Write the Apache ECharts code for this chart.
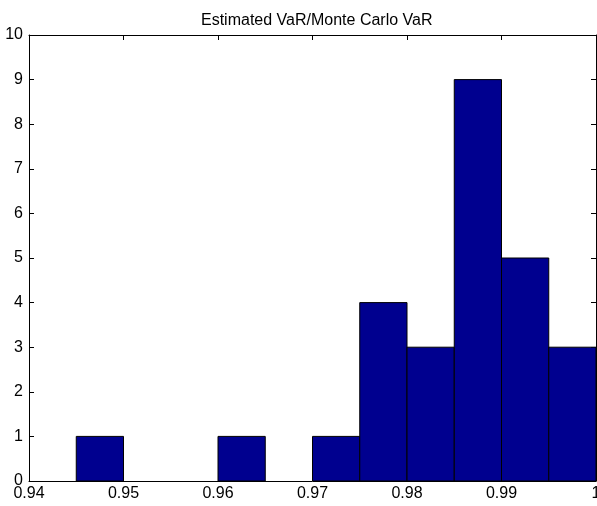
<!DOCTYPE html>
<html>
<head>
<meta charset="utf-8">
<script src="https://cdn.jsdelivr.net/npm/echarts@6/dist/echarts.min.js"></script>
<style>
html,body{margin:0;padding:0;background:#fff;}
#chart{width:597px;height:506px;}
</style>
</head>
<body>
<div id="chart"></div>
<script>
// Histogram bins of the ratio estimated VaR / Monte Carlo VaR
var binStart = [0.945, 0.960, 0.970, 0.975, 0.980, 0.985, 0.990, 0.995];
var binEnd   = [0.950, 0.965, 0.975, 0.980, 0.985, 0.990, 0.995, 1.000];
var counts   = [1, 1, 1, 4, 3, 9, 5, 3];
var xTicks   = [0.94, 0.95, 0.96, 0.97, 0.98, 0.99, 1];
var yTicks   = [0, 1, 2, 3, 4, 5, 6, 7, 8, 9, 10];

var chart = echarts.init(document.getElementById('chart'));
var font = 'Liberation Sans, Arial, sans-serif';
var data = counts.map(function (c, i) { return [binStart[i], binEnd[i], c]; });

var frameAxisX = function (pos, showLabel) {
  return {
    type: 'value', position: pos,
    min: xTicks[0], max: xTicks[xTicks.length - 1], interval: 0.01,
    axisLine: { show: true, onZero: false, lineStyle: { color: '#000', width: 1 } },
    axisTick: { show: true, inside: true, length: 5, lineStyle: { color: '#000' } },
    axisLabel: { show: showLabel, color: '#000', fontFamily: font, fontSize: 16, margin: 5 },
    splitLine: { show: false }
  };
};
var frameAxisY = function (pos, showLabel) {
  return {
    type: 'value', position: pos,
    min: yTicks[0], max: yTicks[yTicks.length - 1], interval: 1,
    axisLine: { show: true, onZero: false, lineStyle: { color: '#000', width: 1 } },
    axisTick: { show: true, inside: true, length: 5, lineStyle: { color: '#000' } },
    axisLabel: { show: showLabel, color: '#000', fontFamily: font, fontSize: 16, margin: 6 },
    splitLine: { show: false }
  };
};

chart.setOption({
  animation: false,
  title: {
    text: 'Estimated VaR/Monte Carlo VaR',
    left: 196, top: 8,
    textStyle: { color: '#000', fontFamily: font, fontSize: 16, fontWeight: 'normal' }
  },
  grid: { left: 29, right: 1, top: 35, bottom: 25, containLabel: false, outerBoundsMode: 'none' },
  xAxis: [frameAxisX('bottom', true), frameAxisX('top', false)],
  yAxis: [frameAxisY('left', true), frameAxisY('right', false)],
  series: [{
    type: 'custom',
    xAxisIndex: 0, yAxisIndex: 0,
    data: data,
    encode: { x: [0, 1], y: 2 },
    renderItem: function (params, api) {
      var p0 = api.coord([api.value(0), api.value(2)]);
      var p1 = api.coord([api.value(1), 0]);
      return {
        type: 'rect',
        shape: { x: p0[0], y: p0[1], width: p1[0] - p0[0], height: p1[1] - p0[1] },
        style: { fill: '#00008f', stroke: '#000', lineWidth: 1 }
      };
    }
  }]
});
</script>
</body>
</html>
